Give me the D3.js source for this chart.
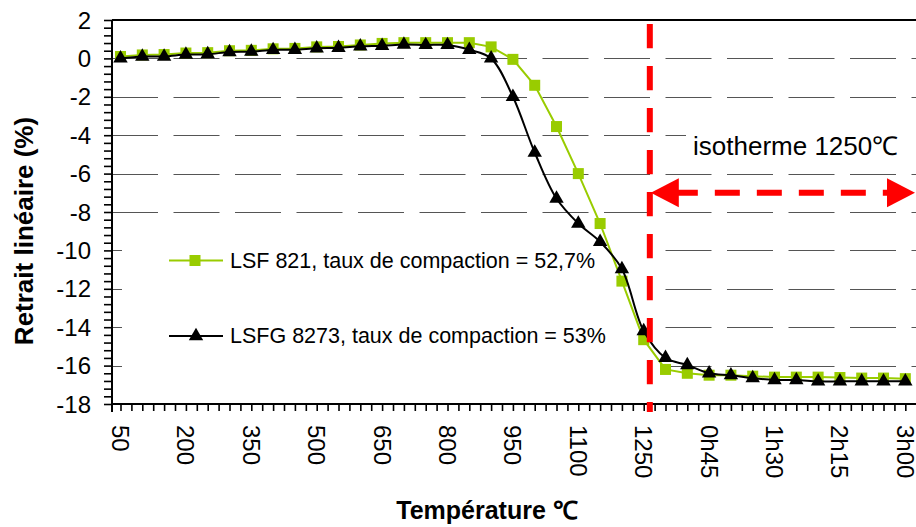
<!DOCTYPE html>
<html>
<head>
<meta charset="utf-8">
<script src="https://cdn.jsdelivr.net/npm/d3@7/dist/d3.min.js"></script>
<style>
  html, body { margin: 0; padding: 0; background: #fff; }
  svg { display: block; font-family: "Liberation Sans", Arial, sans-serif; }
</style>
</head>
<body>
<svg id="chart" width="916" height="527"></svg>
<script>
// Categories: heating ramp (°C) then dwell time at 1250 °C
const categories = [
  "50","100","150","200","250","300","350","400","450","500","550","600","650",
  "700","750","800","850","900","950","1000","1050","1100","1150","1200","1250",
  "0h15","0h30","0h45","1h00","1h15","1h30","1h45","2h00","2h15","2h30","2h45","3h00"
];

// Linear shrinkage (%) – LSF 821
const lsf821 = [
  0.10, 0.18, 0.20, 0.28, 0.30, 0.40, 0.42, 0.50, 0.52, 0.60, 0.62, 0.70, 0.78,
  0.82, 0.82, 0.82, 0.82, 0.60, -0.05, -1.40, -3.55, -6.00, -8.60, -11.60, -14.65,
  -16.20, -16.40, -16.50, -16.50, -16.55, -16.60, -16.60, -16.60, -16.62, -16.65, -16.65, -16.68
];

// Linear shrinkage (%) – LSFG 8273
const lsfg8273 = [
  0.00, 0.10, 0.10, 0.20, 0.22, 0.33, 0.35, 0.44, 0.45, 0.53, 0.55, 0.63, 0.66,
  0.72, 0.70, 0.70, 0.45, 0.00, -2.00, -4.90, -7.30, -8.60, -9.55, -10.97, -14.20,
  -15.60, -15.97, -16.40, -16.50, -16.65, -16.75, -16.75, -16.82, -16.82, -16.82, -16.82, -16.82
];

const seriesNames = [
  "LSF 821, taux de compaction = 52,7%",
  "LSFG 8273, taux de compaction = 53%"
];
const xTickLabels = ["50","200","350","500","650","800","950","1100","1250","0h45","1h30","2h15","3h00"];
const yTickValues = [2, 0, -2, -4, -6, -8, -10, -12, -14, -16, -18];
const gridValues = [0, -2, -4, -6, -8, -10, -12, -14, -16];
const isothermCategory = "1250";
const isothermValue = -7;
const isothermLabel = "isotherme 1250\u2103";
const xTitle = "Température \u2103";
const yTitle = "Retrait linéaire (%)";

const GREEN = "#99cc00";
const RED = "#ff0000";

const svg = d3.select("#chart");
const plot = { left: 112, top: 20, bottom: 404, right: 918 };

const x = d3.scaleLinear().domain([-0.39, 36.6]).range([plot.left, 918.4]);
const y = d3.scaleLinear().domain([2, -18]).range([plot.top, plot.bottom]);
const crisp = v => Math.round(v) + 0.5;

// dashed horizontal gridlines
svg.append("g").selectAll("line").data(gridValues).join("line")
  .attr("x1", plot.left).attr("x2", plot.right)
  .attr("y1", d => crisp(y(d))).attr("y2", d => crisp(y(d)))
  .attr("stroke", "#555").attr("stroke-width", 1)
  .attr("stroke-dasharray", "46,15.5");

// white panels behind the legend and the isotherm caption
svg.append("rect").attr("x", 122).attr("y", 230).attr("width", 530).attr("height", 148).attr("fill", "#fff");
svg.append("rect").attr("x", 686).attr("y", 108).attr("width", 240).attr("height", 56).attr("fill", "#fff");

// frame: top border
svg.append("line").attr("x1", plot.left).attr("x2", plot.right)
  .attr("y1", plot.top).attr("y2", plot.top).attr("stroke", "#000").attr("stroke-width", 2);

// x axis ticks (every half category)
const xAxis = d3.axisBottom(x)
  .tickValues(d3.range(0, 73).map(i => i * 0.5))
  .tickSize(7).tickSizeOuter(0).tickFormat("");
svg.append("g").attr("transform", `translate(0,${plot.bottom})`).call(xAxis)
  .call(g => g.select(".domain").remove())
  .call(g => g.selectAll("line").attr("stroke", "#000").attr("stroke-width", 1.6));

// y axis ticks (minor every 0.4)
const yAxis = d3.axisLeft(y)
  .tickValues(d3.range(0, 51).map(i => -18 + i * 0.4))
  .tickSize(8).tickSizeOuter(0).tickFormat("");
svg.append("g").attr("transform", `translate(${plot.left},0)`).call(yAxis)
  .call(g => g.select(".domain").remove())
  .call(g => g.selectAll("line").attr("stroke", "#000").attr("stroke-width", 1.6));

// axis lines
svg.append("line").attr("x1", plot.left).attr("x2", plot.left)
  .attr("y1", plot.top).attr("y2", plot.bottom + 8).attr("stroke", "#000").attr("stroke-width", 2);
svg.append("line").attr("x1", plot.left).attr("x2", plot.right)
  .attr("y1", plot.bottom).attr("y2", plot.bottom).attr("stroke", "#000").attr("stroke-width", 2);

// y tick labels
svg.append("g").selectAll("text").data(yTickValues).join("text")
  .attr("x", 91).attr("y", d => y(d))
  .attr("text-anchor", "end").attr("dominant-baseline", "central")
  .attr("font-size", 24).attr("fill", "#000")
  .text(d => d);

// x tick labels, rotated
svg.append("g").selectAll("text").data(xTickLabels).join("text")
  .attr("transform", d => `translate(${x(categories.indexOf(d))},425) rotate(90)`)
  .attr("text-anchor", "start").attr("dominant-baseline", "central")
  .attr("font-size", 24).attr("fill", "#000")
  .text(d => d);

// axis titles
svg.append("text").attr("x", 487).attr("y", 519).attr("text-anchor", "middle")
  .attr("font-size", 25).attr("font-weight", "bold").text(xTitle);
svg.append("text").attr("transform", "translate(33,231) rotate(-90)")
  .attr("text-anchor", "middle").attr("font-size", 26).attr("font-weight", "bold").text(yTitle);

// series LSF 821
const lineLinear = d3.line().x((d, i) => x(i)).y(d => y(d));
svg.append("path").datum(lsf821).attr("d", lineLinear)
  .attr("fill", "none").attr("stroke", GREEN).attr("stroke-width", 2);
svg.append("g").selectAll("rect").data(lsf821).join("rect")
  .attr("x", (d, i) => x(i) - 5.5).attr("y", d => y(d) - 5.5)
  .attr("width", 11).attr("height", 11).attr("fill", GREEN);

// series LSFG 8273
const lineSmooth = d3.line().x((d, i) => x(i)).y(d => y(d)).curve(d3.curveCatmullRom.alpha(0.5));
svg.append("path").datum(lsfg8273).attr("d", lineSmooth)
  .attr("fill", "none").attr("stroke", "#000").attr("stroke-width", 2);
const tri = d3.symbol(d3.symbolTriangle, 90);
svg.append("g").selectAll("path").data(lsfg8273).join("path")
  .attr("transform", (d, i) => `translate(${x(i)},${y(d)})`)
  .attr("d", tri).attr("fill", "#000");

// isotherm marker: vertical dashed line and double arrow
const step = x(1) - x(0);
const isoX = x(categories.indexOf(isothermCategory)) + 0.28 * step;
svg.append("line").attr("x1", isoX).attr("x2", isoX).attr("y1", 24).attr("y2", 412)
  .attr("stroke", RED).attr("stroke-width", 6).attr("stroke-dasharray", "24.3,17.7");

const ay = y(isothermValue);
const leftTip = isoX + 1, rightTip = 915, headLen = 28, headHalf = 14.5;
svg.append("line").attr("x1", leftTip + headLen - 6).attr("x2", rightTip - headLen + 2)
  .attr("y1", ay).attr("y2", ay)
  .attr("stroke", RED).attr("stroke-width", 6).attr("stroke-dasharray", "25,17");
svg.append("path")
  .attr("d", `M${leftTip},${ay} L${leftTip + headLen},${ay - headHalf} L${leftTip + headLen},${ay + headHalf} Z`)
  .attr("fill", RED);
svg.append("path")
  .attr("d", `M${rightTip},${ay} L${rightTip - headLen},${ay - headHalf} L${rightTip - headLen},${ay + headHalf} Z`)
  .attr("fill", RED);
svg.append("text").attr("x", 693).attr("y", 155).attr("font-size", 26).attr("fill", "#000")
  .text(isothermLabel);

// legend
const legend = svg.append("g");
const legendRows = [
  { name: seriesNames[0], color: GREEN, shape: "square", y: 260.5 },
  { name: seriesNames[1], color: "#000", shape: "triangle", y: 336 }
];
legendRows.forEach(r => {
  legend.append("line").attr("x1", 169).attr("x2", 223).attr("y1", r.y).attr("y2", r.y)
    .attr("stroke", r.color).attr("stroke-width", 2);
  if (r.shape === "square") {
    legend.append("rect").attr("x", 195 - 5.5).attr("y", r.y - 5.5).attr("width", 11).attr("height", 11).attr("fill", r.color);
  } else {
    legend.append("path").attr("transform", `translate(196,${r.y})`).attr("d", tri).attr("fill", r.color);
  }
  legend.append("text").attr("x", 230).attr("y", r.y).attr("dominant-baseline", "central")
    .attr("font-size", 21.5).attr("fill", "#000").text(r.name);
});
</script>
</body>
</html>
